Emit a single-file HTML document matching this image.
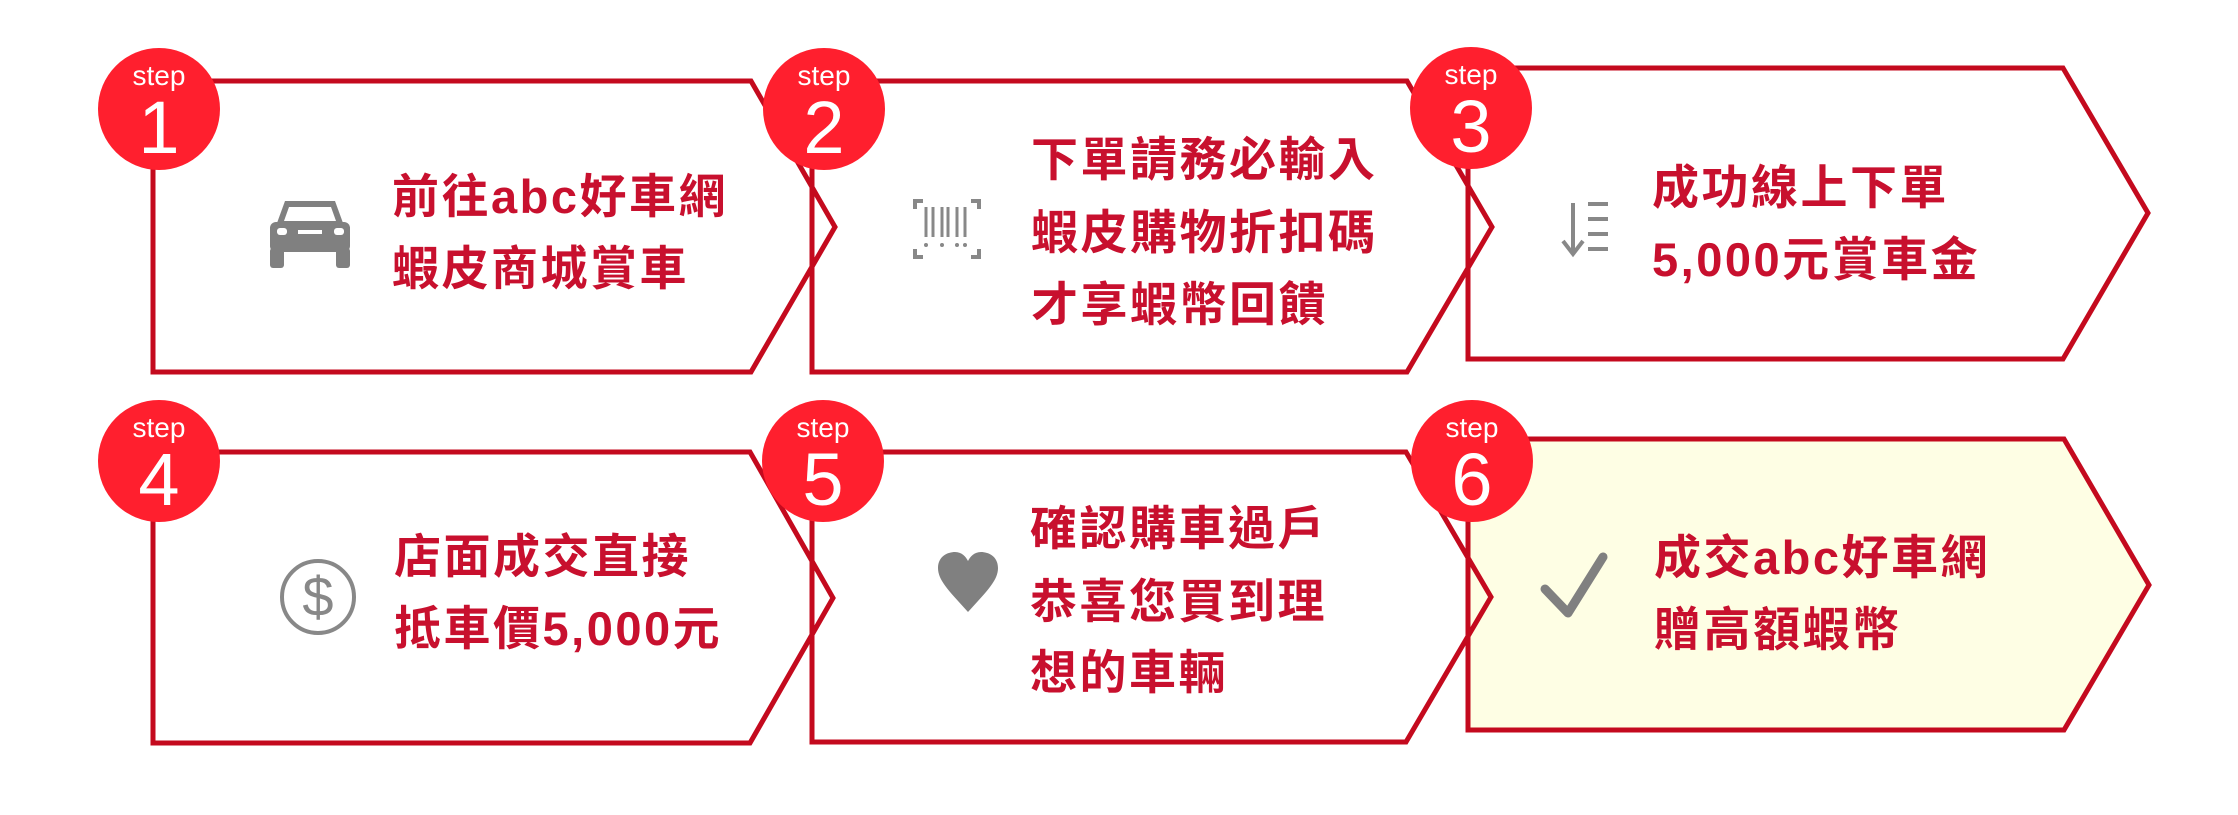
<!DOCTYPE html>
<html><head><meta charset="utf-8"><style>
html,body{margin:0;padding:0;background:#fff;}
svg{display:block;}
.t{font-family:"Liberation Sans","Noto Sans CJK TC",sans-serif;font-weight:bold;font-size:47px;letter-spacing:2.5px;fill:#c8102e;}
.s{font-family:"Liberation Sans",sans-serif;fill:#fff;text-anchor:middle;}
</style></head><body>
<svg width="2238" height="815" viewBox="0 0 2238 815" xmlns="http://www.w3.org/2000/svg">
<g fill="none" stroke="#c40a1e" stroke-width="5">
<polygon points="1468,439 2064,439 2149,585 2064,730 1468,730" fill="#fefee4"/>
<polygon points="1468,68 2063,68 2148,213 2063,359 1468,359"/>
<polygon points="812,81 1407,81 1492,227 1407,372 812,372"/>
<polygon points="153,81 751,81 835,227 751,372 153,372"/>
<polygon points="812,452 1406,452 1491,597 1406,742 812,742"/>
<polygon points="153,452 750,452 833,598 750,743 153,743"/>
</g>
<g fill="#ff1f2e">
<circle cx="159" cy="109" r="61"/>
<circle cx="824" cy="109" r="61"/>
<circle cx="1471" cy="108" r="61"/>
<circle cx="159" cy="461" r="61"/>
<circle cx="823" cy="461" r="61"/>
<circle cx="1472" cy="461" r="61"/>
</g>
<g class="s">
<text x="159" y="85" font-size="28">step</text><text x="159" y="153" font-size="74">1</text>
<text x="824" y="85" font-size="28">step</text><text x="824" y="153" font-size="74">2</text>
<text x="1471" y="84" font-size="28">step</text><text x="1471" y="152" font-size="74">3</text>
<text x="159" y="437" font-size="28">step</text><text x="159" y="505" font-size="74">4</text>
<text x="823" y="437" font-size="28">step</text><text x="823" y="505" font-size="74">5</text>
<text x="1472" y="437" font-size="28">step</text><text x="1472" y="505" font-size="74">6</text>
</g>
<g class="t">
<text x="392" y="213">前往abc好車網</text>
<text x="392" y="285">蝦皮商城賞車</text>
<text x="1031" y="176">下單請務必輸入</text>
<text x="1031" y="249">蝦皮購物折扣碼</text>
<text x="1031" y="321">才享蝦幣回饋</text>
<text x="1652" y="204">成功線上下單</text>
<text x="1652" y="276">5,000元賞車金</text>
<text x="394" y="573">店面成交直接</text>
<text x="394" y="645">抵車價5,000元</text>
<text x="1030" y="545">確認購車過戶</text>
<text x="1030" y="618">恭喜您買到理</text>
<text x="1030" y="689">想的車輛</text>
<text x="1654" y="574">成交abc好車網</text>
<text x="1654" y="646">贈高額蝦幣</text>
</g>
<g fill="#808080">
<path d="M285,201 h50 l8,22 h-66 z"/>
<rect x="270" y="222" width="80" height="30" rx="6"/>
<rect x="270" y="248" width="14" height="20" rx="3"/>
<rect x="336" y="248" width="14" height="20" rx="3"/>
<rect x="277" y="228" width="10" height="7" rx="3" fill="#fff"/>
<rect x="334" y="228" width="10" height="7" rx="3" fill="#fff"/>
<rect x="298" y="230" width="24" height="4" fill="#fff"/>
</g>
<path d="M289,207 h42 l5,14 h-52 z" fill="#fff"/>
<g stroke="#888" stroke-width="4" fill="none">
<path d="M915,209 v-8 h8 M979,209 v-8 h-8 M915,249 v8 h8 M979,249 v8 h-8"/>
<path d="M926,207 v30 M933,207 v30 M942,207 v30 M948,207 v30 M957,207 v30 M965,207 v30" stroke-width="3"/>
</g>
<g fill="#888"><circle cx="926" cy="245" r="2"/><circle cx="942" cy="245" r="2"/><circle cx="957" cy="245" r="2"/><circle cx="965" cy="245" r="2"/></g>
<g stroke="#888" stroke-width="4" fill="none">
<path d="M1573,203 v50 M1563,241 l10,13 l10,-13"/>
<path d="M1588,204 h20 M1588,219 h20 M1588,234 h20 M1588,249 h20"/>
</g>
<circle cx="318" cy="597" r="36" fill="none" stroke="#888" stroke-width="4"/>
<text x="318" y="616" text-anchor="middle" font-family="Liberation Sans,sans-serif" font-size="56" fill="#888">$</text>
<path d="M968,612 C948,590 938,580 938,568 C938,556 948,552 955,552 C962,552 966,557 968,561 C970,557 974,552 981,552 C988,552 998,556 998,568 C998,580 988,590 968,612 z" fill="#808080"/>
<path d="M1545,589 l23,24 l35,-56" fill="none" stroke="#808080" stroke-width="9" stroke-linecap="round" stroke-linejoin="round"/>
</svg>
</body></html>
